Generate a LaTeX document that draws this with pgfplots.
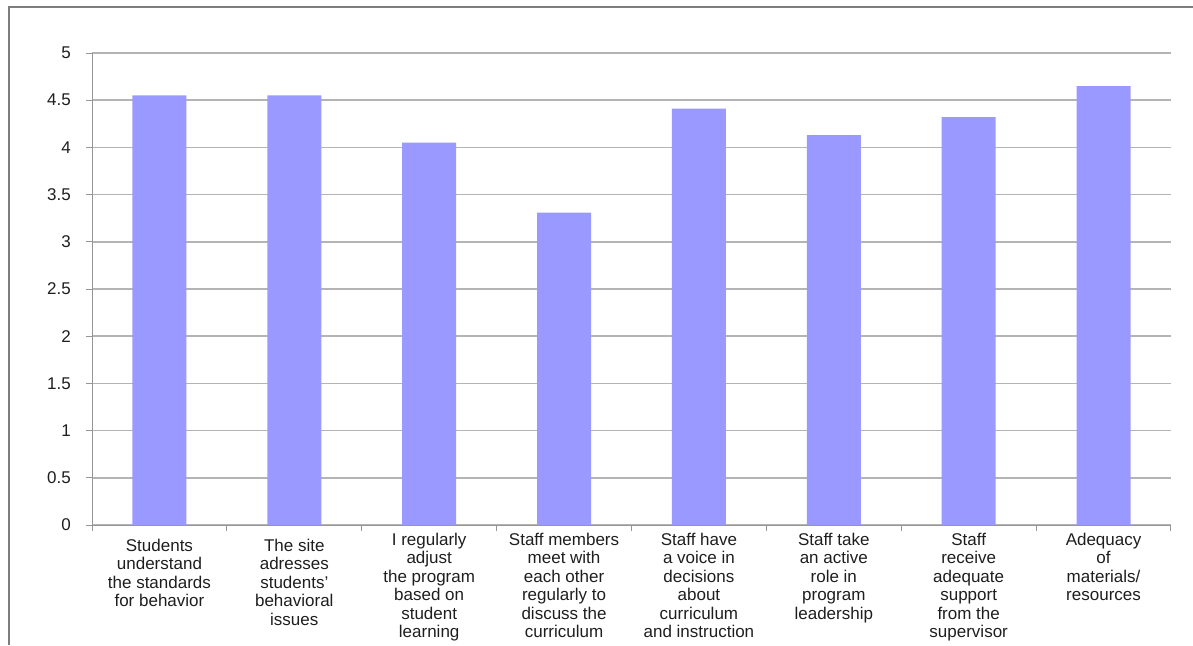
\documentclass[border=0pt]{standalone}
\usepackage{pgfplots}
\pgfplotsset{compat=1.18}
\usepackage{fontspec}
\setmainfont{Liberation Sans}
\definecolor{barc}{RGB}{153,153,255}
\definecolor{gridc}{RGB}{180,180,180}
\definecolor{axc}{RGB}{150,150,150}
\definecolor{framec}{RGB}{125,125,125}
\definecolor{txt}{RGB}{30,30,30}
\begin{document}
\begin{tikzpicture}[x=1pt,y=1pt]
\useasboundingbox (0,0) rectangle (1193,645);
\draw[framec, line width=2.2pt] (9,0) -- (9,638) -- (1193,638);
\begin{axis}[
  at={(92pt,120pt)}, anchor=south west,
  scale only axis, width=1079pt, height=472pt,
  xmin=-0.5, xmax=7.5, ymin=0, ymax=5,
  axis x line*=bottom, axis y line*=left,
  axis line style={axc, line width=1pt},
  ymajorgrids, grid style={gridc, line width=1.5pt},
  ytick={0,0.5,1,1.5,2,2.5,3,3.5,4,4.5,5},
  xtick={-0.5,0.5,1.5,2.5,3.5,4.5,5.5,6.5,7.5},
  x tick label as interval,
  xticklabels={
    {\rule{0pt}{19pt}Students\\understand\\the standards\\for behavior},
    {\rule{0pt}{19pt}The site\\adresses\\students'\\behavioral\\issues},
    {\rule{0pt}{13pt}I regularly\\adjust\\the program\\based on\\student\\learning},
    {\rule{0pt}{13pt}Staff members\\meet with\\each other\\regularly to\\discuss the\\curriculum},
    {\rule{0pt}{13pt}Staff have\\a voice in\\decisions\\about\\curriculum\\and instruction},
    {\rule{0pt}{13pt}Staff take\\an active\\role in\\program\\leadership},
    {\rule{0pt}{13pt}Staff\\receive\\adequate\\support\\from the\\supervisor},
    {\rule{0pt}{13pt}Adequacy\\of\\materials/\\resources}},
  tick align=outside, major tick length=6pt,
  tick style={axc, line width=1pt},
  xticklabel style={font=\fontsize{17}{18.5}\selectfont, text=txt, align=center, anchor=north, inner sep=0pt, yshift=-1pt},
  yticklabel style={font=\fontsize{17}{18.5}\selectfont, text=txt, anchor=east, inner sep=0pt, xshift=-15pt},
  /pgf/number format/assume math mode=true,
  clip=false,
]
\addplot[ybar, bar width=54pt, fill=barc, draw=none] coordinates {(0,4.55) (1,4.55) (2,4.05) (3,3.31) (4,4.41) (5,4.13) (6,4.32) (7,4.65)};
\end{axis}
\end{tikzpicture}
\end{document}
